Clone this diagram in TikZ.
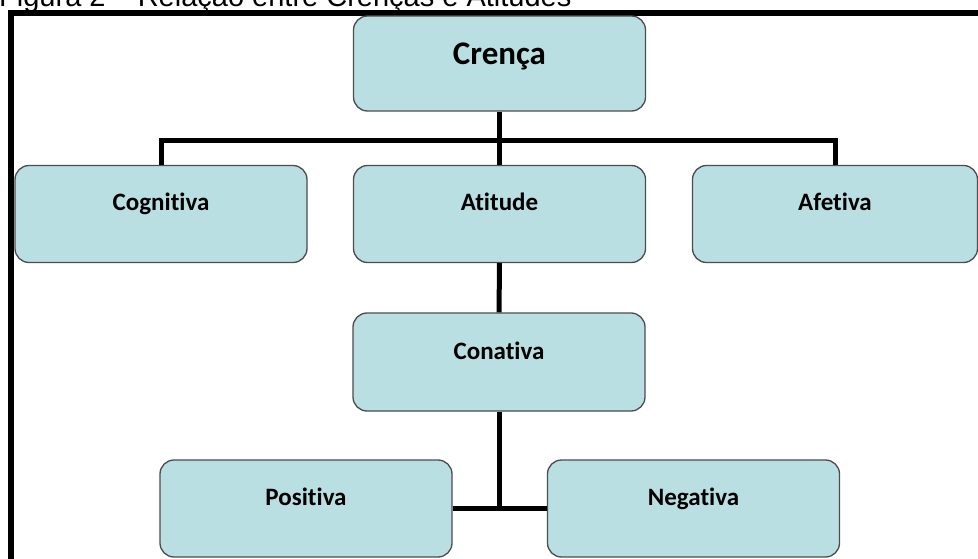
\documentclass[tikz,border=0pt]{standalone}
\usepackage{fontspec}
\usepackage{tikz}
\newfontfamily\fonteCaixa[Ligatures=NoCommon]{Carlito}
\newfontfamily\fonteTitulo{Liberation Sans}
\definecolor{azulCaixa}{HTML}{B9DFE3}

\begin{document}
\begin{tikzpicture}[
    x=1pt, y=-1pt,
    % Caixas arredondadas, texto um pouco acima do centro
    caixa/.style={rectangle, rounded corners=14pt, draw=black!70, line width=1.3pt, fill=azulCaixa,
        minimum width=292pt, minimum height=97pt, inner sep=0pt,
        text height=12pt, text depth=18pt, font=\fonteCaixa\bfseries\fontsize{25}{30}\selectfont},
    % Ligações grossas em preto
    ligacao/.style={draw=black, line width=5pt},
    moldura/.style={draw=black, line width=6pt}
]
    \useasboundingbox (0,0) rectangle (978,559);

    % --- TÍTULO E MOLDURA ---
    \node[anchor=base west, inner sep=0pt, font=\fonteTitulo\fontsize{29}{34}\selectfont] (titulo) at (-1,7)
        {Figura 2 – Relação entre Crenças e Atitudes};
    \draw[moldura] (11,580) |- (1000,13);

    % --- CAIXAS ---
    \node[caixa, minimum height=95pt, text height=20pt, text depth=17pt,
        font=\fonteCaixa\bfseries\fontsize{33}{38}\selectfont] (crenca) at (499.5,63.5) {Crença};

    \node[caixa] (cognitiva) at (161,214)   {Cognitiva};
    \node[caixa] (atitude)   at (499.5,214) {Atitude};
    \node[caixa, minimum width=285pt] (afetiva) at (835,214) {Afetiva};

    \node[caixa, minimum height=98pt] (conativa) at (499,362) {Conativa};

    \node[caixa] (positiva) at (306,508.5)   {Positiva};
    \node[caixa] (negativa) at (693.5,508.5) {Negativa};

    % --- LIGAÇÕES ---
    \coordinate (juncao) at (499.5,141);
    \draw[ligacao] (crenca) -- (juncao);
    \draw[ligacao] (juncao) -| (cognitiva);
    \draw[ligacao] (juncao) -| (afetiva);
    \draw[ligacao] (juncao) -- (atitude);

    \draw[ligacao] (atitude) -- (conativa);
    \draw[ligacao] (conativa) -- (conativa |- positiva);
    \draw[ligacao] (positiva) -- (negativa);

\end{tikzpicture}
\end{document}
